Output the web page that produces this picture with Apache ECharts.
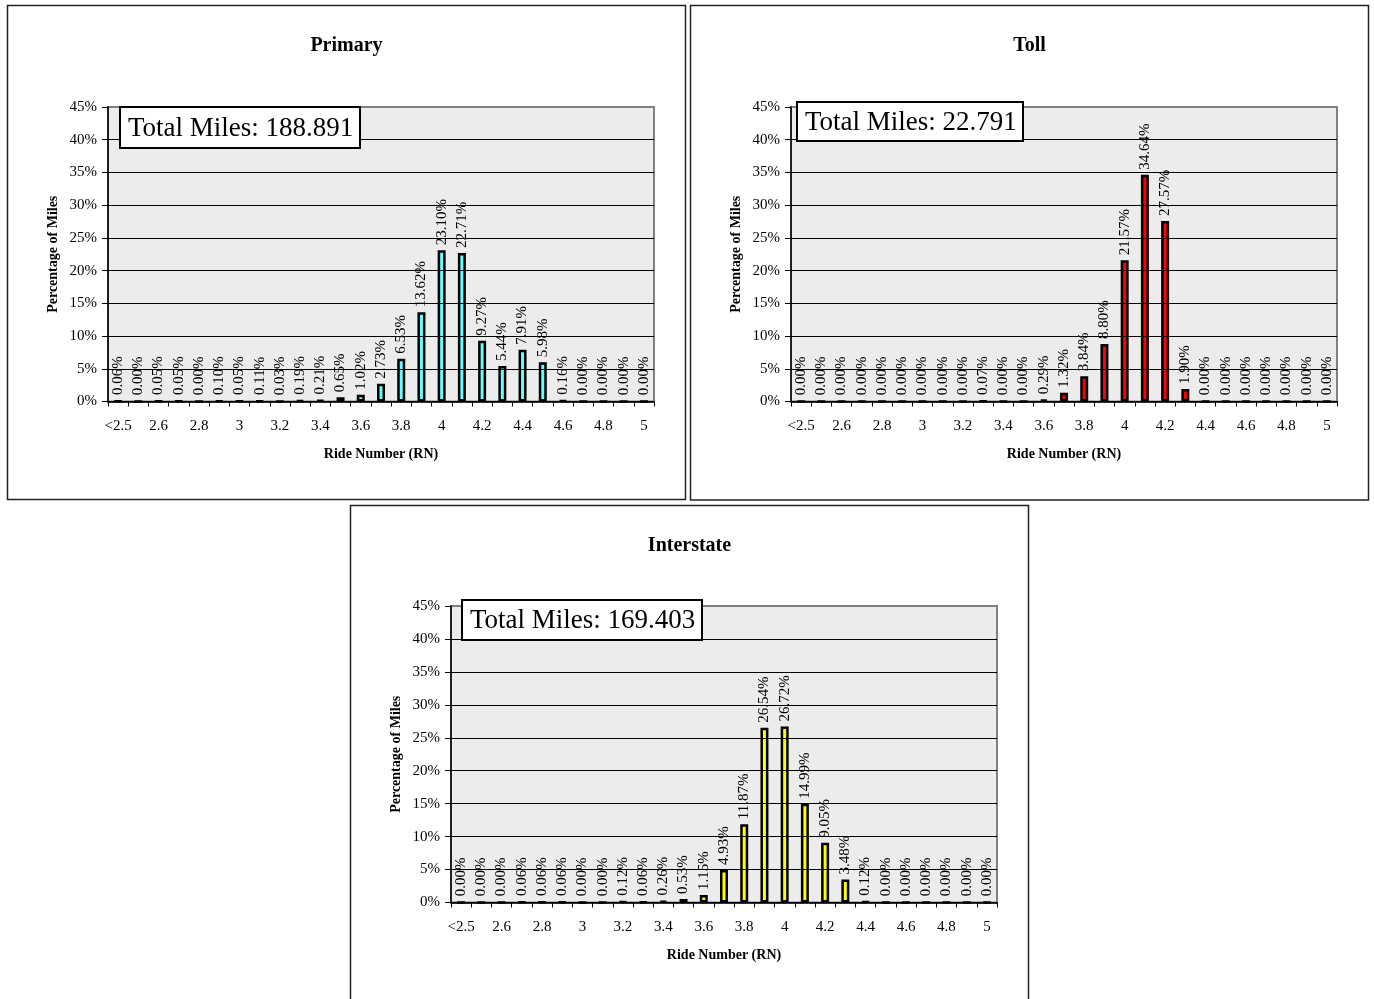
<!DOCTYPE html>
<html>
<head>
<meta charset="utf-8">
<script src="https://cdn.jsdelivr.net/npm/echarts@6/dist/echarts.min.js"></script>
<style>
  html, body { margin: 0; padding: 0; background: #ffffff; }
  #chart { width: 1374px; height: 999px; }
</style>
</head>
<body>
<div id="chart"></div>
<script>
// Ride Number bins (x axis categories)
const categories = ['<2.5', '2.5', '2.6', '2.7', '2.8', '2.9', '3', '3.1', '3.2', '3.3',
  '3.4', '3.5', '3.6', '3.7', '3.8', '3.9', '4', '4.1', '4.2', '4.3', '4.4', '4.5',
  '4.6', '4.7', '4.8', '4.9', '5'];

// Percentage of miles in each bin, per road type
const primaryShare = [0.06, 0.00, 0.05, 0.05, 0.00, 0.10, 0.05, 0.11, 0.03, 0.19,
  0.21, 0.65, 1.02, 2.73, 6.53, 13.62, 23.10, 22.71, 9.27, 5.44, 7.91, 5.98,
  0.16, 0.00, 0.00, 0.00, 0.00];
const tollShare = [0.00, 0.00, 0.00, 0.00, 0.00, 0.00, 0.00, 0.00, 0.00, 0.07,
  0.00, 0.00, 0.29, 1.32, 3.84, 8.80, 21.57, 34.64, 27.57, 1.90, 0.00, 0.00,
  0.00, 0.00, 0.00, 0.00, 0.00];
const interstateShare = [0.00, 0.00, 0.00, 0.06, 0.06, 0.06, 0.00, 0.00, 0.12, 0.06,
  0.26, 0.53, 1.15, 4.93, 11.87, 26.54, 26.72, 14.99, 9.05, 3.48, 0.12, 0.00,
  0.00, 0.00, 0.00, 0.00, 0.00];

const panelTitles = ['Primary', 'Toll', 'Interstate'];
const totalMiles = ['188.891', '22.791', '169.403'];

// Y axis range (percent)
const yMin = 0;
const yMax = 45;
const yStep = 5;

const SERIF = '"Liberation Serif", "Times New Roman", serif';

const layout = [
  { frame: [7.5, 5.5, 678, 494], grid: { left: 108, top: 107, width: 546, height: 294.5 },
    box: [120, 107, 240, 41], color: '#66ffff', data: primaryShare },
  { frame: [690.5, 5.5, 678, 494.5], grid: { left: 791, top: 107, width: 546, height: 294.5 },
    box: [797, 102, 226, 39], color: '#ff0000', data: tollShare },
  { frame: [350.5, 505.5, 678, 500], grid: { left: 451, top: 606, width: 546, height: 296.5 },
    box: [462, 600, 240, 40], color: '#ffff00', data: interstateShare }
];

const gridLineColors = [];
for (let v = yMin; v <= yMax; v += yStep) {
  gridLineColors.push(v === yMax ? '#808080' : '#000000');
}

const grids = [], xAxes = [], yAxes = [], series = [], graphics = [];

layout.forEach((p, i) => {
  grids.push(Object.assign({
    show: true,
    backgroundColor: '#ececec',
    borderColor: '#808080',
    borderWidth: 2,
    containLabel: false
  }, p.grid));

  xAxes.push({
    type: 'category',
    gridIndex: i,
    data: categories,
    boundaryGap: true,
    name: 'Ride Number (RN)',
    nameLocation: 'middle',
    nameGap: 46,
    nameTextStyle: { fontFamily: SERIF, fontWeight: 'bold', fontSize: 14, color: '#000' },
    axisLine: { show: true, lineStyle: { color: '#000', width: 1.5 } },
    axisTick: { show: true, interval: 0, alignWithLabel: false, length: 5, lineStyle: { color: '#000' } },
    axisLabel: { interval: 1, margin: 17, fontFamily: SERIF, fontSize: 15, color: '#000' },
    splitLine: { show: false },
    z: 5
  });

  yAxes.push({
    type: 'value',
    gridIndex: i,
    min: yMin,
    max: yMax,
    interval: yStep,
    name: 'Percentage of Miles',
    nameLocation: 'middle',
    nameGap: 48,
    nameTextStyle: { fontFamily: SERIF, fontWeight: 'bold', fontSize: 14, color: '#000' },
    axisLine: { show: true, lineStyle: { color: '#000', width: 1.5 } },
    axisTick: { show: true, length: 6, lineStyle: { color: '#000' } },
    axisLabel: { formatter: '{value}%', margin: 11, fontFamily: SERIF, fontSize: 15, color: '#000' },
    splitLine: { show: true, lineStyle: { color: gridLineColors, width: 1 } },
    z: 5
  });

  series.push({
    type: 'bar',
    xAxisIndex: i,
    yAxisIndex: i,
    data: p.data,
    barWidth: 8,
    itemStyle: { color: p.color, borderColor: '#000', borderWidth: 2.5 },
    label: {
      show: true,
      position: 'top',
      distance: 5,
      rotate: 90,
      align: 'left',
      verticalAlign: 'middle',
      fontFamily: SERIF,
      fontSize: 15,
      color: '#000',
      formatter: (d) => d.value.toFixed(2) + '%'
    },
    animation: false,
    z: 3
  });

  // panel frame
  graphics.push({
    type: 'rect',
    shape: { x: p.frame[0], y: p.frame[1], width: p.frame[2], height: p.frame[3] },
    style: { fill: 'none', stroke: '#222', lineWidth: 1.5 },
    z: 0, silent: true
  });

  // panel title
  graphics.push({
    type: 'text',
    x: p.frame[0] + p.frame[2] / 2,
    y: p.frame[1] + 40,
    style: {
      text: panelTitles[i],
      font: 'bold 20px ' + SERIF,
      fill: '#000',
      textAlign: 'center',
      textVerticalAlign: 'middle'
    },
    z: 100, silent: true
  });

  // total miles box
  graphics.push({
    type: 'rect',
    shape: { x: p.box[0], y: p.box[1], width: p.box[2], height: p.box[3] },
    style: { fill: '#ffffff', stroke: '#000', lineWidth: 2 },
    z: 100, silent: true
  });
  graphics.push({
    type: 'text',
    x: p.box[0] + 8,
    y: p.box[1] + p.box[3] / 2 + 1,
    style: {
      text: 'Total Miles: ' + totalMiles[i],
      font: '27px ' + SERIF,
      fill: '#000',
      textAlign: 'left',
      textVerticalAlign: 'middle'
    },
    z: 101, silent: true
  });
});

const chart = echarts.init(document.getElementById('chart'), null, { renderer: 'canvas' });
chart.setOption({
  animation: false,
  backgroundColor: '#ffffff',
  grid: grids,
  xAxis: xAxes,
  yAxis: yAxes,
  series: series,
  graphic: graphics
});
</script>
</body>
</html>
